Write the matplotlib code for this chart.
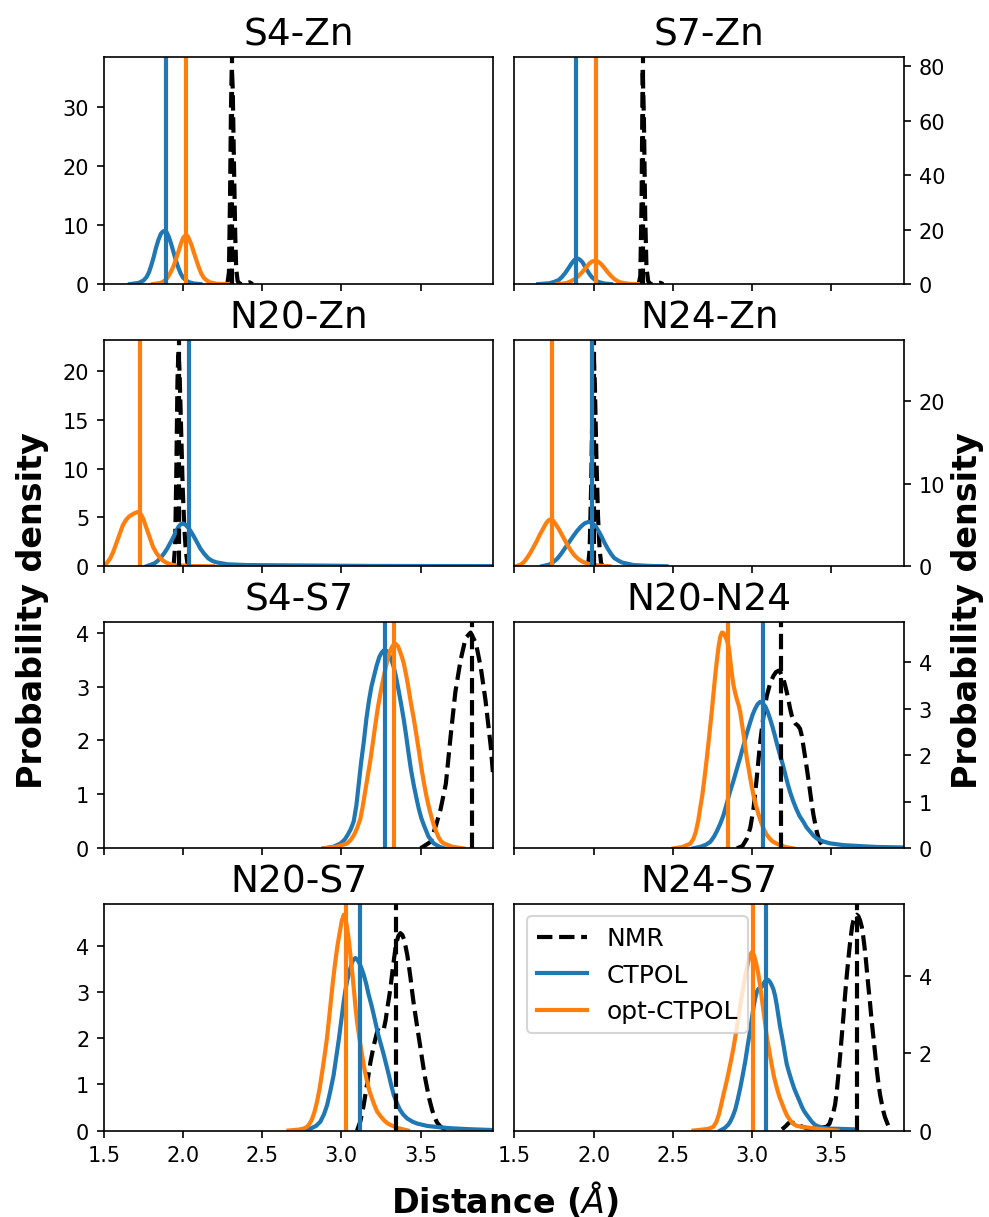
import matplotlib
matplotlib.use("Agg")
import matplotlib.pyplot as plt
import numpy as np

# ---------------- data ----------------
panel_titles = ["S4-Zn", "S7-Zn", "N20-Zn", "N24-Zn", "S4-S7", "N20-N24", "N20-S7", "N24-S7"]
series_labels = ["NMR", "CTPOL", "opt-CTPOL"]
x_ticks = [1.5, 2.0, 2.5, 3.0, 3.5]

# S4-Zn
s4zn_nmr = [(2.28, 0), (2.29, 2), (2.297, 15), (2.303, 30), (2.308, 36.5), (2.314, 33), (2.322, 20),
            (2.33, 8), (2.336, 2.5), (2.345, 0.5), (2.36, 0), (2.40, 0.1), (2.42, 0.3), (2.44, 0)]
s4zn_ctpol = [(1.665, 0), (1.72, 0.2), (1.75, 0.6), (1.77, 1.2), (1.785, 2.0), (1.80, 3.2), (1.815, 4.6),
              (1.83, 6.2), (1.845, 7.5), (1.86, 8.5), (1.873, 8.9), (1.886, 9.0), (1.898, 8.7),
              (1.91, 8.0), (1.925, 6.8), (1.94, 5.4), (1.955, 4.0), (1.97, 2.8), (1.985, 1.8),
              (2.00, 1.1), (2.02, 0.6), (2.04, 0.3), (2.07, 0.1), (2.11, 0)]
s4zn_opt = [(1.81, 0), (1.86, 0.2), (1.88, 0.5), (1.90, 1.0), (1.92, 1.9), (1.94, 3.0), (1.955, 4.2),
            (1.97, 5.4), (1.985, 6.7), (2.00, 7.8), (2.017, 8.3), (2.03, 8.1), (2.04, 7.5), (2.055, 6.5),
            (2.07, 5.2), (2.085, 4.0), (2.10, 2.8), (2.115, 1.8), (2.13, 1.1), (2.15, 0.6), (2.17, 0.3),
            (2.21, 0.05), (2.30, 0)]
s4zn_lines = [2.31, 1.892, 2.019]

# S7-Zn
s7zn_nmr = [(2.285, 0), (2.295, 3), (2.303, 30), (2.31, 79.3), (2.318, 60), (2.326, 25), (2.334, 6),
            (2.345, 1), (2.36, 0), (2.40, 0.2), (2.42, 0.5), (2.44, 0)]
s7zn_ctpol = [(1.65, 0), (1.72, 0.3), (1.75, 0.8), (1.78, 1.5), (1.80, 2.6), (1.82, 4.0), (1.84, 5.7),
              (1.86, 7.5), (1.878, 8.8), (1.896, 9.5), (1.913, 9.0), (1.93, 8.0), (1.945, 6.5),
              (1.96, 5.0), (1.975, 3.6), (1.99, 2.5), (2.01, 1.5), (2.03, 0.8), (2.07, 0.2), (2.11, 0)]
s7zn_opt = [(1.77, 0), (1.80, 0.15), (1.83, 0.4), (1.855, 1.0), (1.88, 1.8), (1.905, 3.0), (1.93, 4.5),
            (1.95, 5.9), (1.97, 7.4), (1.99, 8.3), (2.011, 8.6), (2.03, 8.2), (2.05, 7.2), (2.07, 5.8),
            (2.09, 4.3), (2.11, 3.0), (2.13, 1.9), (2.15, 1.1), (2.17, 0.6), (2.22, 0.1), (2.28, 0)]
s7zn_lines = [2.314, 1.891, 2.013]

# N20-Zn
n20zn_nmr = [(1.94, 0), (1.95, 2), (1.958, 10), (1.965, 19), (1.971, 22.1), (1.978, 20), (1.988, 14),
             (1.998, 8), (2.008, 4), (2.018, 1.5), (2.028, 0.3), (2.04, 0)]
n20zn_ctpol = [(1.77, 0), (1.82, 0.3), (1.84, 0.55), (1.86, 0.9), (1.88, 1.3), (1.90, 1.8), (1.92, 2.4),
               (1.94, 3.0), (1.955, 3.55), (1.97, 4.0), (1.985, 4.3), (1.998, 4.38), (2.015, 4.25),
               (2.03, 4.0), (2.05, 3.55), (2.07, 3.0), (2.09, 2.4), (2.11, 1.8), (2.135, 1.25),
               (2.16, 0.8), (2.185, 0.55), (2.21, 0.4), (2.28, 0.2), (2.40, 0.12),
               (2.74, 0.08), (3.2, 0.03), (3.96, 0.01)]
n20zn_opt = [(1.506, 0.1), (1.52, 0.35), (1.54, 0.8), (1.56, 1.5), (1.58, 2.4), (1.60, 3.3), (1.62, 4.2),
             (1.64, 4.75), (1.66, 5.1), (1.69, 5.4), (1.717, 5.57), (1.735, 5.3), (1.75, 4.8),
             (1.765, 4.1), (1.78, 3.4), (1.795, 2.7), (1.81, 2.0), (1.83, 1.4), (1.85, 0.95),
             (1.87, 0.62), (1.89, 0.4), (1.92, 0.2), (1.95, 0.1), (2.05, 0.02), (2.19, 0)]
n20zn_lines = [1.975, 2.04, 1.728]

# N24-Zn
n24zn_nmr = [(1.965, 0), (1.975, 2), (1.985, 10), (1.993, 20), (2.0, 26.1), (2.008, 22), (2.018, 13),
             (2.028, 6), (2.038, 2), (2.048, 0.3), (2.06, 0)]
n24zn_ctpol = [(1.675, 0), (1.72, 0.2), (1.745, 0.5), (1.77, 0.9), (1.795, 1.5), (1.82, 2.2), (1.845, 2.9),
               (1.87, 3.6), (1.895, 4.25), (1.92, 4.8), (1.945, 5.2), (1.969, 5.37), (1.99, 5.25),
               (2.01, 4.9), (2.03, 4.3), (2.05, 3.6), (2.07, 2.8), (2.09, 2.1), (2.11, 1.5), (2.13, 1.0),
               (2.155, 0.7), (2.18, 0.45), (2.25, 0.15), (2.35, 0.04), (2.46, 0)]
n24zn_opt = [(1.517, 0.05), (1.54, 0.2), (1.56, 0.5), (1.58, 1.0), (1.60, 1.6), (1.62, 2.3), (1.64, 3.0),
             (1.66, 3.8), (1.68, 4.5), (1.70, 5.2), (1.715, 5.55), (1.727, 5.66), (1.745, 5.5),
             (1.76, 5.1), (1.78, 4.5), (1.80, 3.8), (1.82, 3.1), (1.84, 2.4), (1.86, 1.8), (1.88, 1.3),
             (1.905, 0.85), (1.93, 0.55), (1.96, 0.33), (1.99, 0.2), (2.05, 0.05), (2.10, 0)]
n24zn_lines = [2.0, 1.99, 1.738]

# S4-S7
s4s7_nmr = [(3.50, 0), (3.563, 0.12), (3.60, 0.45), (3.627, 0.73), (3.66, 1.2), (3.69, 2.08), (3.72, 2.9),
            (3.753, 3.49), (3.785, 3.9), (3.816, 4.0), (3.85, 3.8), (3.88, 3.36), (3.91, 2.75), (3.943, 1.9),
            (3.96, 1.3)]
s4s7_ctpol = [(2.888, 0), (2.95, 0.03), (2.994, 0.09), (3.02, 0.16), (3.04, 0.25), (3.06, 0.36),
              (3.078, 0.5), (3.095, 0.8), (3.11, 1.2), (3.125, 1.6), (3.141, 1.96), (3.158, 2.4),
              (3.175, 2.75), (3.19, 3.0), (3.205, 3.18), (3.222, 3.38), (3.24, 3.55), (3.255, 3.63),
              (3.268, 3.67), (3.285, 3.66), (3.30, 3.6), (3.315, 3.5), (3.331, 3.36), (3.345, 3.18),
              (3.36, 2.95), (3.377, 2.68), (3.394, 2.39), (3.41, 2.07), (3.425, 1.75), (3.44, 1.45),
              (3.458, 1.16), (3.475, 0.92), (3.49, 0.72), (3.505, 0.56), (3.521, 0.43), (3.55, 0.22),
              (3.584, 0.09), (3.62, 0.03), (3.65, 0)]
s4s7_opt = [(2.888, 0), (2.97, 0.03), (3.036, 0.09), (3.06, 0.16), (3.08, 0.25), (3.10, 0.38),
            (3.12, 0.55), (3.135, 0.78), (3.15, 1.05), (3.167, 1.35), (3.184, 1.65), (3.2, 1.98),
            (3.215, 2.3), (3.23, 2.6), (3.247, 2.88), (3.265, 3.15), (3.28, 3.35), (3.295, 3.53),
            (3.31, 3.68), (3.325, 3.76), (3.342, 3.79), (3.357, 3.75), (3.37, 3.65), (3.382, 3.55),
            (3.394, 3.43), (3.41, 3.2), (3.425, 2.95), (3.44, 2.68), (3.458, 2.39), (3.475, 2.08),
            (3.49, 1.8), (3.505, 1.5), (3.521, 1.22), (3.535, 1.0), (3.55, 0.8), (3.567, 0.6),
            (3.584, 0.43), (3.6, 0.3), (3.615, 0.2), (3.63, 0.13), (3.648, 0.09), (3.70, 0.03), (3.77, 0)]
s4s7_lines = [3.823, 3.278, 3.331]

# N20-N24
n20n24_nmr = [(2.905, 0), (2.94, 0.05), (2.968, 0.21), (2.99, 0.45), (3.01, 0.86), (3.03, 1.5),
              (3.052, 2.28), (3.073, 2.85), (3.094, 3.28), (3.115, 3.55), (3.136, 3.71), (3.152, 3.79),
              (3.168, 3.82), (3.18, 3.78), (3.19, 3.7), (3.2, 3.62), (3.21, 3.5), (3.22, 3.36),
              (3.23, 3.2), (3.24, 3.02), (3.252, 2.85), (3.264, 2.74), (3.275, 2.68), (3.29, 2.64),
              (3.304, 2.57), (3.315, 2.42), (3.325, 2.2), (3.336, 1.96), (3.347, 1.71), (3.358, 1.45),
              (3.368, 1.2), (3.378, 0.95), (3.389, 0.71), (3.4, 0.52), (3.41, 0.35), (3.42, 0.23),
              (3.43, 0.14), (3.45, 0.04), (3.47, 0)]
n20n24_ctpol = [(2.63, 0), (2.68, 0.04), (2.71, 0.08), (2.737, 0.14), (2.76, 0.25), (2.78, 0.38),
                (2.80, 0.53), (2.82, 0.71), (2.84, 0.95), (2.86, 1.2), (2.883, 1.45), (2.905, 1.71),
                (2.928, 1.98), (2.95, 2.25), (2.97, 2.5), (2.989, 2.71), (3.005, 2.88), (3.02, 3.0),
                (3.036, 3.1), (3.052, 3.15), (3.068, 3.12), (3.085, 3.05), (3.1, 2.93), (3.115, 2.78),
                (3.13, 2.61), (3.145, 2.42), (3.16, 2.22), (3.178, 2.0), (3.195, 1.8), (3.21, 1.6),
                (3.225, 1.4), (3.241, 1.21), (3.26, 1.02), (3.28, 0.85), (3.3, 0.7), (3.325, 0.57),
                (3.345, 0.45), (3.37, 0.35), (3.39, 0.27), (3.41, 0.21), (3.45, 0.15), (3.49, 0.11),
                (3.577, 0.07), (3.68, 0.05), (3.79, 0.03), (3.96, 0.02)]
n20n24_opt = [(2.505, 0), (2.56, 0.03), (2.61, 0.1), (2.63, 0.2), (2.645, 0.35), (2.66, 0.58),
              (2.673, 0.86), (2.687, 1.15), (2.70, 1.5), (2.713, 1.88), (2.726, 2.28), (2.737, 2.64),
              (2.748, 3.0), (2.758, 3.36), (2.768, 3.71), (2.779, 4.05), (2.79, 4.35), (2.80, 4.55),
              (2.81, 4.64), (2.82, 4.63), (2.832, 4.55), (2.842, 4.47), (2.852, 4.35), (2.86, 4.15),
              (2.868, 3.9), (2.876, 3.68), (2.884, 3.5), (2.895, 3.33), (2.905, 3.2), (2.916, 3.08),
              (2.926, 2.93), (2.936, 2.7), (2.947, 2.45), (2.958, 2.18), (2.968, 1.93), (2.98, 1.7),
              (2.99, 1.5), (3.0, 1.31), (3.01, 1.14), (3.025, 0.93), (3.04, 0.75), (3.056, 0.58),
              (3.073, 0.43), (3.09, 0.31), (3.11, 0.22), (3.13, 0.15), (3.157, 0.1), (3.21, 0.03), (3.26, 0)]
n20n24_lines = [3.183, 3.069, 2.846]

# N20-S7
n20s7_nmr = [(3.099, 0), (3.12, 0.2), (3.141, 0.55), (3.162, 1.0), (3.184, 1.49), (3.205, 1.85),
             (3.226, 2.14), (3.237, 2.17), (3.247, 2.15), (3.258, 2.15), (3.268, 2.2), (3.28, 2.4),
             (3.29, 2.65), (3.3, 2.86), (3.31, 3.09), (3.318, 3.32), (3.326, 3.55), (3.334, 3.76),
             (3.342, 3.96), (3.35, 4.1), (3.36, 4.22), (3.373, 4.28), (3.385, 4.24), (3.395, 4.15),
             (3.405, 4.0), (3.416, 3.81), (3.426, 3.58), (3.437, 3.3), (3.447, 3.01), (3.458, 2.72),
             (3.47, 2.45), (3.48, 2.22), (3.49, 2.0), (3.5, 1.78), (3.51, 1.55), (3.52, 1.33),
             (3.53, 1.12), (3.542, 0.91), (3.552, 0.73), (3.563, 0.58), (3.573, 0.45), (3.584, 0.33),
             (3.595, 0.24), (3.605, 0.17), (3.627, 0.08), (3.66, 0.02), (3.69, 0)]
n20s7_ctpol = [(2.762, 0), (2.81, 0.05), (2.84, 0.1), (2.867, 0.19), (2.89, 0.35), (2.91, 0.55),
               (2.93, 0.85), (2.951, 1.2), (2.968, 1.6), (2.985, 2.0), (3.0, 2.4), (3.015, 2.8),
               (3.026, 3.05), (3.037, 3.25), (3.047, 3.4), (3.057, 3.52), (3.066, 3.63), (3.075, 3.7),
               (3.089, 3.74), (3.102, 3.7), (3.115, 3.62), (3.128, 3.51), (3.141, 3.38), (3.157, 3.18),
               (3.172, 2.95), (3.19, 2.72), (3.205, 2.5), (3.22, 2.27), (3.235, 2.05), (3.252, 1.84),
               (3.268, 1.64), (3.284, 1.42), (3.30, 1.2), (3.315, 0.98), (3.331, 0.77), (3.35, 0.6),
               (3.37, 0.45), (3.39, 0.35), (3.416, 0.26), (3.45, 0.19), (3.48, 0.15), (3.542, 0.1),
               (3.62, 0.07), (3.69, 0.05), (3.80, 0.03), (3.96, 0.01)]
n20s7_opt = [(2.666, 0), (2.73, 0.02), (2.76, 0.04), (2.783, 0.08), (2.8, 0.15), (2.815, 0.25),
             (2.83, 0.4), (2.846, 0.62), (2.862, 0.9), (2.878, 1.25), (2.893, 1.6), (2.909, 2.0),
             (2.922, 2.42), (2.935, 2.85), (2.948, 3.27), (2.962, 3.67), (2.976, 4.02), (2.99, 4.3),
             (3.003, 4.55), (3.015, 4.68), (3.026, 4.6), (3.036, 4.4), (3.047, 4.12), (3.057, 3.81),
             (3.068, 3.45), (3.078, 3.1), (3.088, 2.72), (3.099, 2.36), (3.114, 2.0), (3.13, 1.65),
             (3.146, 1.33), (3.162, 1.06), (3.178, 0.85), (3.195, 0.68), (3.21, 0.54), (3.226, 0.41),
             (3.25, 0.3), (3.27, 0.22), (3.29, 0.16), (3.31, 0.12), (3.36, 0.05), (3.42, 0)]
n20s7_lines = [3.348, 3.12, 3.03]

# N24-S7
n24s7_nmr = [(3.19, 0.03), (3.215, 0.12), (3.241, 0.23), (3.27, 0.18), (3.304, 0.12), (3.34, 0.07),
             (3.37, 0.05), (3.42, 0.06), (3.473, 0.1), (3.49, 0.18), (3.50, 0.3), (3.513, 0.45),
             (3.525, 0.67), (3.535, 0.98), (3.545, 1.4), (3.556, 1.9), (3.567, 2.43), (3.578, 2.97),
             (3.588, 3.5), (3.598, 3.98), (3.609, 4.45), (3.617, 4.77), (3.625, 5.05), (3.633, 5.3),
             (3.641, 5.45), (3.651, 5.56), (3.662, 5.6), (3.672, 5.56), (3.683, 5.45), (3.694, 5.28),
             (3.702, 5.06), (3.71, 4.8), (3.718, 4.5), (3.725, 4.19), (3.735, 3.75), (3.746, 3.3),
             (3.756, 2.85), (3.767, 2.43), (3.778, 2.0), (3.788, 1.6), (3.798, 1.25), (3.809, 0.93),
             (3.82, 0.7), (3.83, 0.5), (3.84, 0.35), (3.851, 0.23), (3.865, 0.08), (3.88, 0)]
n24s7_ctpol = [(2.80, 0), (2.83, 0.07), (2.85, 0.15), (2.863, 0.23), (2.88, 0.38), (2.895, 0.55),
               (2.91, 0.8), (2.926, 1.1), (2.942, 1.44), (2.958, 1.8), (2.973, 2.2), (2.989, 2.6),
               (3.0, 2.92), (3.01, 3.2), (3.02, 3.42), (3.031, 3.6), (3.04, 3.67), (3.05, 3.7),
               (3.06, 3.72), (3.07, 3.78), (3.082, 3.87), (3.094, 3.92), (3.105, 3.9), (3.115, 3.85),
               (3.125, 3.77), (3.136, 3.66), (3.147, 3.48), (3.157, 3.25), (3.167, 2.98), (3.178, 2.69),
               (3.19, 2.43), (3.2, 2.2), (3.21, 1.95), (3.22, 1.72), (3.235, 1.5), (3.25, 1.3),
               (3.266, 1.1), (3.283, 0.93), (3.3, 0.77), (3.315, 0.62), (3.33, 0.5), (3.347, 0.4),
               (3.365, 0.3), (3.38, 0.22), (3.395, 0.16), (3.41, 0.12), (3.45, 0.07), (3.49, 0.05),
               (3.58, 0.04), (3.65, 0.03)]
n24s7_opt = [(2.631, 0), (2.70, 0.03), (2.73, 0.05), (2.757, 0.1), (2.775, 0.22), (2.79, 0.4),
             (2.805, 0.65), (2.82, 0.93), (2.836, 1.2), (2.852, 1.5), (2.868, 1.82), (2.884, 2.16),
             (2.9, 2.55), (2.915, 2.95), (2.93, 3.35), (2.947, 3.75), (2.96, 4.07), (2.975, 4.35),
             (2.988, 4.55), (3.0, 4.63), (3.013, 4.55), (3.026, 4.35), (3.04, 4.07), (3.052, 3.75),
             (3.062, 3.43), (3.073, 3.1), (3.084, 2.76), (3.094, 2.43), (3.11, 2.05), (3.125, 1.7),
             (3.14, 1.38), (3.157, 1.11), (3.173, 0.88), (3.19, 0.7), (3.205, 0.54), (3.22, 0.4),
             (3.235, 0.3), (3.25, 0.22), (3.266, 0.16), (3.283, 0.12), (3.32, 0.09), (3.367, 0.07),
             (3.45, 0.03), (3.54, 0)]
n24s7_lines = [3.662, 3.09, 3.006]

panel_curves = [
    (s4zn_nmr, s4zn_ctpol, s4zn_opt, s4zn_lines),
    (s7zn_nmr, s7zn_ctpol, s7zn_opt, s7zn_lines),
    (n20zn_nmr, n20zn_ctpol, n20zn_opt, n20zn_lines),
    (n24zn_nmr, n24zn_ctpol, n24zn_opt, n24zn_lines),
    (s4s7_nmr, s4s7_ctpol, s4s7_opt, s4s7_lines),
    (n20n24_nmr, n20n24_ctpol, n20n24_opt, n20n24_lines),
    (n20s7_nmr, n20s7_ctpol, n20s7_opt, n20s7_lines),
    (n24s7_nmr, n24s7_ctpol, n24s7_opt, n24s7_lines),
]

# ---------------- styling ----------------
colors = ["black", "#1f77b4", "#ff7f0e"]
styles = ["--", "-", "-"]

fig, axes = plt.subplots(4, 2, figsize=(989 / 150, 1218 / 150), dpi=150, sharex=True)
fig.subplots_adjust(left=0.105, right=0.914, top=0.952, bottom=0.071, hspace=0.245, wspace=0.054)

for i, ax in enumerate(axes.flat):
    nmr, ctpol, opt, vlines = panel_curves[i]
    handles = []
    for pts, c, ls, lab in zip([nmr, ctpol, opt], colors, styles, series_labels):
        arr = np.array(pts, dtype=float)
        h, = ax.plot(arr[:, 0], arr[:, 1], color=c, ls=ls, lw=2, label=lab,
                     solid_joinstyle="round", dash_joinstyle="round")
        handles.append(h)
    for xv, c, ls in zip(vlines, colors, styles):
        ax.axvline(xv, color=c, ls=ls, lw=2)
    ax.set_ylim(bottom=0)
    ax.set_xlim(1.5, 3.96)
    ax.set_xticks(x_ticks)
    ax.set_title(panel_titles[i], fontsize=18)
    ax.tick_params(labelsize=10)
    if i % 2 == 1:
        ax.yaxis.tick_right()
    if i == 7:
        ax.legend(handles=handles, loc="upper left", fontsize=12)

fig.text(0.033, 0.499, "Probability density", rotation=90, fontsize=16, fontweight="bold",
         ha="center", va="center")
fig.text(0.978, 0.499, "Probability density", rotation=90, fontsize=16, fontweight="bold",
         ha="center", va="center")
fig.text(0.51, 0.015, r"Distance ($\AA$)", fontsize=16, fontweight="bold", ha="center", va="center")

fig.savefig("out.png", dpi=150)
